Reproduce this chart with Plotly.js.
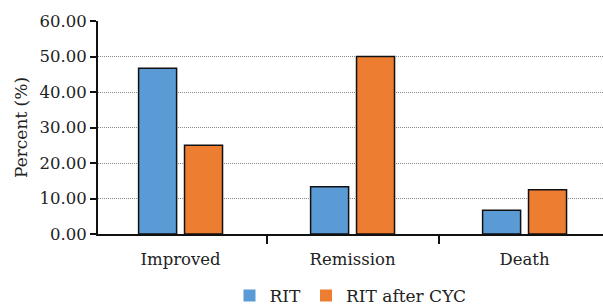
<!DOCTYPE html>
<html>
<head>
<meta charset="utf-8">
<script src="https://cdn.plot.ly/plotly-3.0.1.min.js"></script>
<style>html,body{margin:0;padding:0;background:#fff;}#chart{width:603px;height:307px;}</style>
</head>
<body>
<div id="chart"></div>
<script>
const categories = ["Improved", "Remission", "Death"];
const seriesNames = ["RIT", "RIT after CYC"];
const ritValues = [46.67, 13.33, 6.67];
const ritAfterCycValues = [25.0, 50.0, 12.5];
const yTickValues = [0, 10, 20, 30, 40, 50, 60];

const fam = "DejaVu Serif, serif";
const font = {family: fam, size: 16.5, color: "#222"};

const traces = [
  {type: "bar", name: seriesNames[0], x: categories, y: ritValues,
   offset: -0.244, width: 0.221,
   marker: {color: "#5B9BD5", line: {color: "#111", width: 1.5}}, showlegend: false},
  {type: "bar", name: seriesNames[1], x: categories, y: ritAfterCycValues,
   offset: 0.023, width: 0.221,
   marker: {color: "#ED7D31", line: {color: "#111", width: 1.5}}, showlegend: false},
  {type: "bar", name: seriesNames[0], x: [categories[0]], y: [null],
   marker: {color: "#5B9BD5", line: {width: 0}}, showlegend: true, hoverinfo: "skip"},
  {type: "bar", name: seriesNames[1], x: [categories[0]], y: [null],
   marker: {color: "#ED7D31", line: {width: 0}}, showlegend: true, hoverinfo: "skip"}
];

const layout = {
  width: 603, height: 307,
  margin: {l: 98, r: 0, t: 21, b: 73},
  paper_bgcolor: "#fff", plot_bgcolor: "#fff",
  font: font,
  barmode: "overlay",
  showlegend: true,
  legend: {orientation: "h", x: 0.5, xanchor: "center",
           yref: "container", y: 0.036, yanchor: "middle",
           font: {family: fam, size: 17, color: "#222"}, itemwidth: 30},
  xaxis: {
    type: "category", range: [-0.48, 2.456],
    showline: true, linecolor: "#111", linewidth: 2,
    ticks: "outside", tickson: "boundaries", ticklen: 8, tickwidth: 2, tickcolor: "#111",
    showgrid: false, zeroline: false, tickfont: font, ticklabelstandoff: 9,
    automargin: false
  },
  yaxis: {
    range: [0, 60], tickvals: yTickValues, tickformat: ".2f",
    showline: true, linecolor: "#111", linewidth: 2,
    ticks: "outside", ticklen: 6, tickwidth: 2, tickcolor: "#111",
    showgrid: true, gridcolor: "#888", griddash: "1px,1px", gridwidth: 1,
    zeroline: false, tickfont: font, automargin: false,
    title: {text: "Percent (%)", font: {family: fam, size: 17, color: "#222"}, standoff: 8}
  }
};

Plotly.newPlot("chart", traces, layout, {displayModeBar: false, staticPlot: true});
</script>
</body>
</html>
